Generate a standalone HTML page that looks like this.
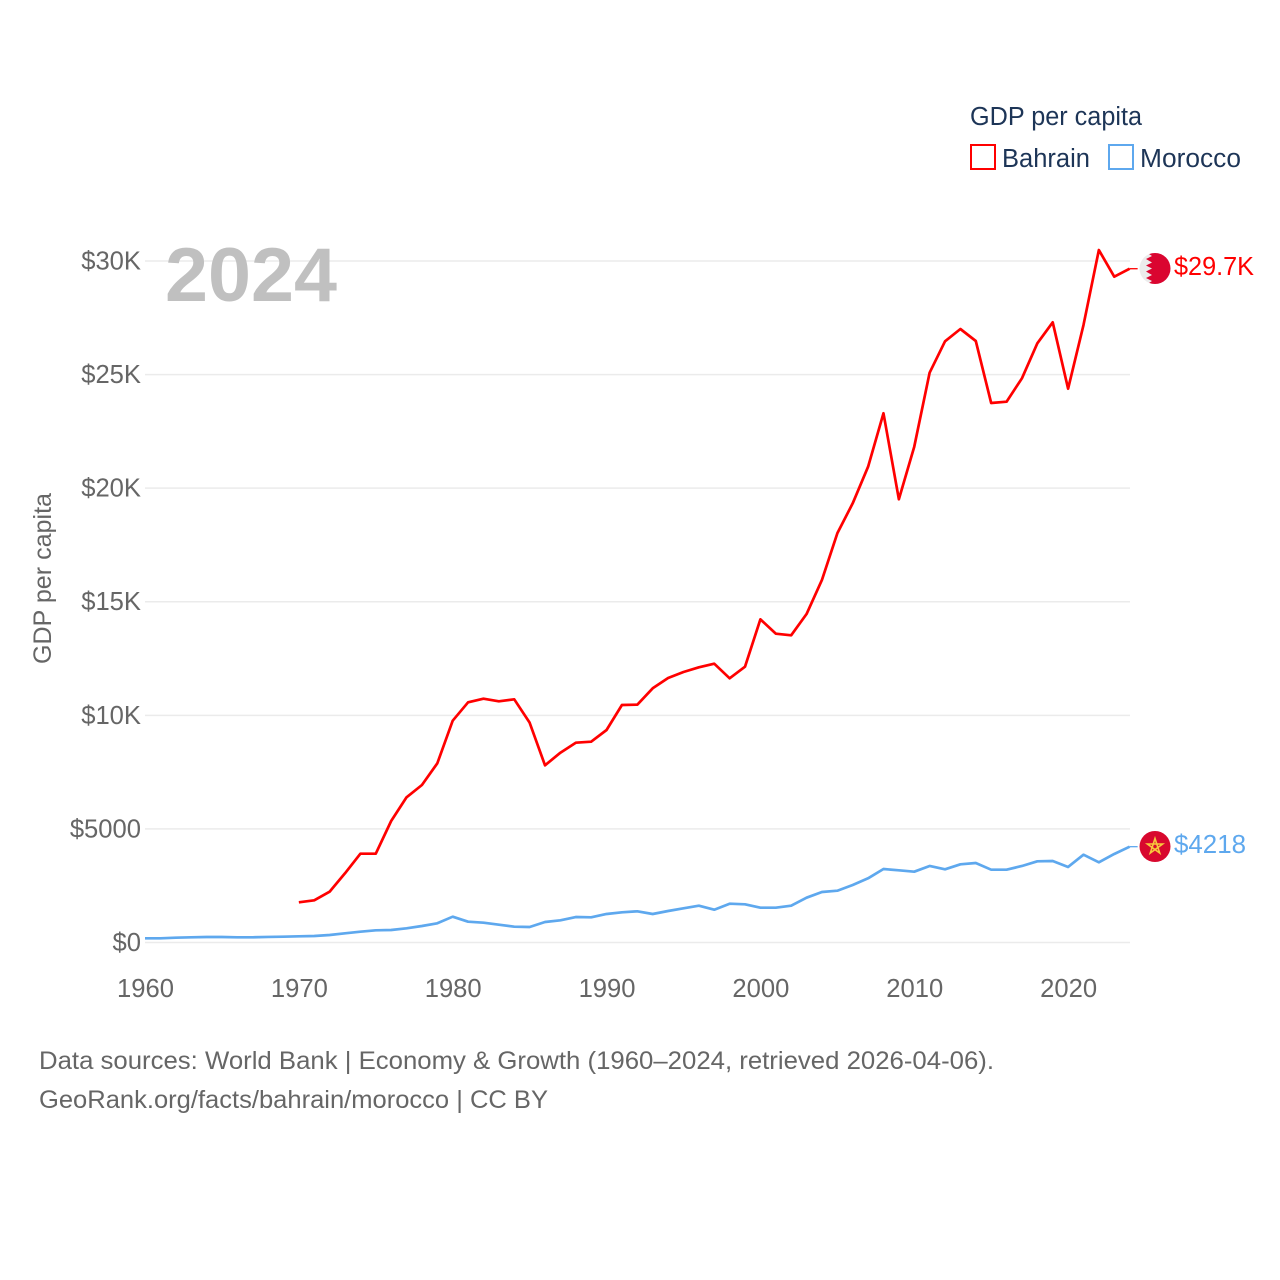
<!DOCTYPE html>
<html lang="en">
<head>
<meta charset="utf-8">
<title>GDP per capita: Bahrain and Morocco</title>
<style>
html,body{margin:0;padding:0;background:#fff;width:1280px;height:1280px;overflow:hidden}
svg{display:block;font-family:"Liberation Sans",sans-serif}
</style>
</head>
<body>
<svg id="chart" xmlns="http://www.w3.org/2000/svg" width="1280" height="1280" viewBox="0 0 1280 1280">
  <rect width="1280" height="1280" fill="#ffffff"/>
  <g id="grid"></g>
  <g id="yticks"></g>
  <g id="xticks"></g>
  <text x="165" y="301" font-size="76" font-weight="700" fill="#c0c0c0" textLength="172" lengthAdjust="spacingAndGlyphs">2024</text>
  <text transform="translate(51,664) rotate(-90)" font-size="25" fill="#666666" textLength="171" lengthAdjust="spacingAndGlyphs">GDP per capita</text>
  <g id="series"></g>

  <g>
    <text x="970" y="125" font-size="25.5" fill="#1d3557" textLength="172" lengthAdjust="spacingAndGlyphs">GDP per capita</text>
    <rect x="971" y="145" width="24" height="24" fill="none" stroke="#ff0000" stroke-width="2"/>
    <text x="1002" y="167" font-size="25.5" fill="#1d3557" textLength="88" lengthAdjust="spacingAndGlyphs">Bahrain</text>
    <rect x="1109" y="145" width="24" height="24" fill="none" stroke="#5ea8ee" stroke-width="2"/>
    <text x="1140" y="167" font-size="25.5" fill="#1d3557" textLength="101" lengthAdjust="spacingAndGlyphs">Morocco</text>
  </g>

  <defs>
    <clipPath id="flagClipB"><circle cx="1155" cy="268.5" r="15.5"/></clipPath>
  </defs>
  <g id="flagB">
    <g clip-path="url(#flagClipB)">
      <rect x="1139" y="252" width="32" height="33" fill="#ececec"/>
      <polygon fill="#da0530" points="1172,252 1146,252 1152,256 1146,259 1152,262.5 1146,265.5 1152,268.5 1146,271.5 1152,275 1146,278 1152,281 1146,285 1172,285"/>
    </g>
  </g>
  <g id="flagM">
    <circle cx="1155" cy="846.5" r="15.5" fill="#d8082e"/>
    <polygon points="1155,838.5 1159.7,853 1147.4,844 1162.6,844 1150.3,853" fill="none" stroke="#f7c93c" stroke-width="1.6"/>
  </g>
  <text x="1174" y="275" font-size="25.5" fill="#ff0000" textLength="80" lengthAdjust="spacingAndGlyphs">$29.7K</text>
  <text x="1174" y="853" font-size="25.5" fill="#5ea8ee" textLength="72" lengthAdjust="spacingAndGlyphs">$4218</text>

  <text x="39" y="1069" font-size="25" fill="#666666" textLength="955" lengthAdjust="spacingAndGlyphs">Data sources: World Bank | Economy &amp; Growth (1960–2024, retrieved 2026-04-06).</text>
  <a><text x="39" y="1108" font-size="25" fill="#666666" textLength="509" lengthAdjust="spacingAndGlyphs">GeoRank.org/facts/bahrain/morocco | CC BY</text></a>
</svg>
<script>
const years = [1960,1961,1962,1963,1964,1965,1966,1967,1968,1969,1970,1971,1972,1973,1974,1975,1976,1977,1978,1979,1980,1981,1982,1983,1984,1985,1986,1987,1988,1989,1990,1991,1992,1993,1994,1995,1996,1997,1998,1999,2000,2001,2002,2003,2004,2005,2006,2007,2008,2009,2010,2011,2012,2013,2014,2015,2016,2017,2018,2019,2020,2021,2022,2023,2024];
const bahrain = [null,null,null,null,null,null,null,null,null,null,1770,1857,2236,3046,3909,3909,5348,6392,6933,7888,9764,10573,10733,10617,10705,9677,7800,8355,8795,8840,9354,10455,10470,11190,11643,11907,12113,12273,11630,12141,14226,13595,13522,14460,15960,18013,19334,20945,23295,19510,21825,25083,26465,27006,26478,23749,23806,24835,26376,27301,24378,27182,30483,29309,29660];
const morocco = [185,185,211,229,242,242,229,229,245,255,273,286,330,405,475,537,550,625,726,845,1136,916,872,784,696,682,902,977,1122,1109,1255,1329,1373,1255,1387,1505,1620,1444,1708,1682,1532,1532,1620,1972,2223,2280,2531,2826,3235,3178,3117,3368,3222,3442,3500,3205,3205,3368,3574,3588,3324,3865,3530,3896,4218];
const yTickValues = [0,5000,10000,15000,20000,25000,30000];
const yTickLabels = ["$0","$5000","$10K","$15K","$20K","$25K","$30K"];
const xTickValues = [1960,1970,1980,1990,2000,2010,2020];

const SVGNS = "http://www.w3.org/2000/svg";
const xScale = function (yr) { return 145 + (yr - 1960) * 15.385; };
const yScale = function (v) { return 942.5 - v * 0.022717; };

const grid = document.getElementById("grid");
const yticks = document.getElementById("yticks");
const xticks = document.getElementById("xticks");
const series = document.getElementById("series");

yTickValues.forEach(function (v, i) {
  const line = document.createElementNS(SVGNS, "line");
  
  
  line.setAttribute("x1", 145);
  line.setAttribute("x2", 1130);
  line.setAttribute("y1", yScale(v));
  line.setAttribute("y2", yScale(v));
  line.setAttribute("stroke", "#ebebeb");
  line.setAttribute("stroke-width", "1.5");
  grid.appendChild(line);

  const t = document.createElementNS(SVGNS, "text");
  
  
  t.setAttribute("x", 141);
  t.setAttribute("y", yScale(v) + 8.5);
  t.setAttribute("text-anchor", "end");
  t.setAttribute("font-size", "25.6");
  t.setAttribute("fill", "#666666");
  t.textContent = yTickLabels[i];
  yticks.appendChild(t);
});

xTickValues.forEach(function (yr) {
  const t = document.createElementNS(SVGNS, "text");
  
  
  t.setAttribute("x", xScale(yr) + 0.5);
  t.setAttribute("y", 997);
  t.setAttribute("text-anchor", "middle");
  t.setAttribute("font-size", "25.6");
  t.setAttribute("fill", "#666666");
  t.textContent = String(yr);
  xticks.appendChild(t);
});

function buildPoints(vals) {
  const pts = [];
  vals.forEach(function (v, i) {
    if (v !== null) {
      pts.push(xScale(years[i]).toFixed(2) + "," + yScale(v).toFixed(2));
    }
  });
  return pts.join(" ");
}

const morLine = document.createElementNS(SVGNS, "polyline");


morLine.setAttribute("points", buildPoints(morocco));
morLine.setAttribute("fill", "none");
morLine.setAttribute("stroke", "#5ea8ee");
morLine.setAttribute("stroke-width", "2.7");
morLine.setAttribute("stroke-linejoin", "round");
series.appendChild(morLine);

const bahLine = document.createElementNS(SVGNS, "polyline");


bahLine.setAttribute("points", buildPoints(bahrain));
bahLine.setAttribute("fill", "none");
bahLine.setAttribute("stroke", "#ff0000");
bahLine.setAttribute("stroke-width", "2.7");
bahLine.setAttribute("stroke-linejoin", "round");
series.appendChild(bahLine);

const lastIdx = years.length - 1;
const conB = document.createElementNS(SVGNS, "line");


conB.setAttribute("x1", xScale(years[lastIdx]));
conB.setAttribute("x2", xScale(years[lastIdx]) + 8);
conB.setAttribute("y1", yScale(bahrain[lastIdx]));
conB.setAttribute("y2", yScale(bahrain[lastIdx]));
conB.setAttribute("stroke", "#ff0000");
conB.setAttribute("stroke-width", "1.3");
series.appendChild(conB);

const conM = document.createElementNS(SVGNS, "line");


conM.setAttribute("x1", xScale(years[lastIdx]));
conM.setAttribute("x2", xScale(years[lastIdx]) + 8);
conM.setAttribute("y1", yScale(morocco[lastIdx]));
conM.setAttribute("y2", yScale(morocco[lastIdx]));
conM.setAttribute("stroke", "#5ea8ee");
conM.setAttribute("stroke-width", "1.3");
series.appendChild(conM);
</script>
</body>
</html>
